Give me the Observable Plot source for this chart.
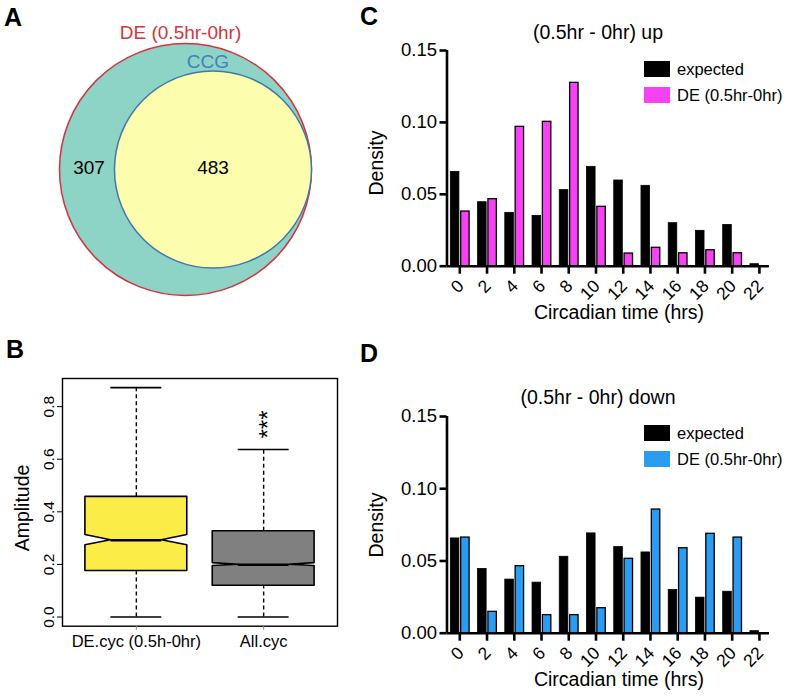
<!DOCTYPE html>
<html>
<head>
<meta charset="utf-8">
<script src="https://cdn.jsdelivr.net/npm/d3@7"></script>
<script src="https://cdn.jsdelivr.net/npm/@observablehq/plot@0.6"></script>
<style>
  html, body { margin: 0; padding: 0; background: #fff; }
  #wrap { position: relative; width: 786px; height: 697px; overflow: hidden; font-family: "Liberation Sans", Arial, sans-serif; color: #000; }
  #wrap svg { position: absolute; }
  .t { position: absolute; white-space: nowrap; line-height: 1; }
  .sw { position: absolute; }
</style>
</head>
<body>
<div id="wrap"></div>
<script>
// ---------------- data ----------------
// Panel A (Venn)
const vennSetNames = ["DE (0.5hr-0hr)", "CCG"];
const vennDEonly = 307;
const vennOverlap = 483;

// Panel B (boxplot of amplitude)
const boxGroups = ["DE.cyc (0.5h-0hr)", "All.cyc"];
const boxLower  = [0.000, 0.000];
const boxQ1     = [0.175, 0.119];
const boxMedian = [0.292, 0.199];
const boxQ3     = [0.457, 0.326];
const boxUpper  = [0.872, 0.637];
const notchLow  = [0.273, 0.194];
const notchHigh = [0.312, 0.205];
const boxSignif = ["", "***"];

// Panels C & D (density by circadian time)
const hours    = [0, 2, 4, 6, 8, 10, 12, 14, 16, 18, 20, 22];
const expected = [0.0656, 0.0445, 0.0371, 0.0350, 0.0529, 0.0691, 0.0596, 0.0559, 0.0299, 0.0246, 0.0287, 0.0014];
const deUp     = [0.0380, 0.0466, 0.0969, 0.1004, 0.1275, 0.0413, 0.0088, 0.0128, 0.0090, 0.0111, 0.0090, 0];
const deDown   = [0.0662, 0.0148, 0.0464, 0.0125, 0.0125, 0.0173, 0.0515, 0.0856, 0.0588, 0.0688, 0.0662, 0];
const yTicks   = [0, 0.05, 0.10, 0.15];

// ---------------- helpers ----------------
const wrap = document.getElementById("wrap");
const FONT = '"Liberation Sans", Arial, sans-serif';
function place(svg, left, top) {
  svg.style.left = left + "px";
  svg.style.top = top + "px";
  wrap.appendChild(svg);
}
function text(str, css) {
  const d = document.createElement("div");
  d.className = "t";
  d.textContent = str;
  Object.assign(d.style, css);
  wrap.appendChild(d);
  return d;
}

// ---------------- Panel A: Venn ----------------
(function () {
  const total = vennDEonly + vennOverlap;
  const rScale = d3.scaleSqrt().domain([0, total]).range([0, 126]);
  const outerR = rScale(total), innerR = rScale(vennOverlap);
  const cx = 185, cy = 169;
  const circles = [
    {name: vennSetNames[0], n: total, x: cx, fill: "#8dd4c6", stroke: "#d3343d"},
    {name: vennSetNames[1], n: vennOverlap, x: cx + (outerR - innerR), fill: "#fdfdae", stroke: "#3f78ad"}
  ];
  const labels = [
    {t: String(vennDEonly), x: ((cx - outerR) + (circles[1].x - innerR)) / 2 + 2, y: cy - 2, fill: "#000", size: 19},
    {t: String(vennOverlap), x: circles[1].x, y: cy - 2, fill: "#000", size: 19},
    {t: vennSetNames[0], x: cx - 5, y: cy - outerR - 11, fill: "#d3343d", size: 19},
    {t: vennSetNames[1], x: circles[1].x - 5, y: cy - innerR - 9, fill: "#3f82c0", size: 19}
  ];
  const svg = Plot.plot({
    width: 340, height: 330, margin: 0,
    style: {fontFamily: FONT, background: "transparent", overflow: "visible"},
    x: {type: "identity", axis: null},
    y: {type: "identity", axis: null},
    r: {type: "sqrt", domain: [0, total], range: [0, 126]},
    marks: [
      Plot.dot(circles, {x: "x", y: () => cy, r: "n", fill: "fill", stroke: "stroke", strokeWidth: 1.5, fillOpacity: 1}),
      Plot.text(labels, {x: "x", y: "y", text: "t", fill: "fill", fontSize: "size", lineAnchor: "middle"})
    ]
  });
  place(svg, 0, 0);
  text("A", {left: "4px", top: "5px", fontWeight: "bold", fontSize: "25px"});
})();

// ---------------- Panel B: notched boxplot ----------------
(function () {
  const W = 0.4, NF = 0.5, STAPLE = 0.2;
  const boxes = boxGroups.map((g, i) => ({
    g, c: i + 1, lower: boxLower[i], q1: boxQ1[i], med: boxMedian[i], q3: boxQ3[i],
    upper: boxUpper[i], nlo: notchLow[i], nhi: notchHigh[i], sig: boxSignif[i],
    fill: i === 0 ? "#fcec48" : "#808080"
  }));
  const outline = boxes.flatMap(b => [
    {g: b.g, fill: b.fill, y: b.q1,  x1: b.c - W,      x2: b.c + W},
    {g: b.g, fill: b.fill, y: b.nlo, x1: b.c - W,      x2: b.c + W},
    {g: b.g, fill: b.fill, y: b.med, x1: b.c - W * NF, x2: b.c + W * NF},
    {g: b.g, fill: b.fill, y: b.nhi, x1: b.c - W,      x2: b.c + W},
    {g: b.g, fill: b.fill, y: b.q3,  x1: b.c - W,      x2: b.c + W}
  ]);
  const ymax = d3.max(boxUpper), ymin = d3.min(boxLower);
  const pad = (ymax - ymin) * 0.04;
  const svg = Plot.plot({
    width: 340, height: 367,
    marginLeft: 62, marginRight: 3, marginTop: 48, marginBottom: 71.3,
    style: {fontFamily: FONT, background: "transparent", overflow: "visible"},
    x: {domain: [0.42, 2.58]},
    y: {domain: [ymin - pad, ymax + pad]},
    marks: [
      Plot.ruleX(boxes, {x: "c", y1: "q3", y2: "upper", stroke: "#000", strokeWidth: 1.4, strokeDasharray: "4,3"}),
      Plot.ruleX(boxes, {x: "c", y1: "lower", y2: "q1", stroke: "#000", strokeWidth: 1.4, strokeDasharray: "4,3"}),
      Plot.ruleY(boxes, {y: "upper", x1: d => d.c - STAPLE, x2: d => d.c + STAPLE, stroke: "#000", strokeWidth: 1.6}),
      Plot.ruleY(boxes, {y: "lower", x1: d => d.c - STAPLE, x2: d => d.c + STAPLE, stroke: "#000", strokeWidth: 1.6}),
      Plot.areaX(outline, {y: "y", x1: "x1", x2: "x2", z: "g", fill: "fill", stroke: "#000", strokeWidth: 1.6, curve: "linear"}),
      Plot.ruleY(boxes, {y: "med", x1: d => d.c - W * NF, x2: d => d.c + W * NF, stroke: "#000", strokeWidth: 2.6}),
      Plot.text(boxes.filter(b => b.sig), {x: "c", y: "upper", text: "sig", rotate: -90, textAnchor: "start", lineAnchor: "middle", dy: -11, dx: 5, fontSize: 24}),
      Plot.frame({stroke: "#000", strokeWidth: 1.4}),
      Plot.axisY({ticks: [0, 0.2, 0.4, 0.6, 0.8], tickFormat: d3.format(".1f"), tickRotate: -90, tickSize: 5, tickPadding: 4, fontSize: 15.5, label: null}),
      Plot.axisX({ticks: [1, 2], tickFormat: d => boxGroups[d - 1], tickSize: 4, tickPadding: 5, fontSize: 16.5, label: null, stroke: "#888"})
    ]
  });
  place(svg, 0, 330);
  text("B", {left: "6px", top: "337px", fontWeight: "bold", fontSize: "25px"});
  text("Amplitude", {left: "23px", top: "508px", fontSize: "19.5px", transform: "translate(-50%,-50%) rotate(-90deg)"});
})();

// ---------------- Panels C & D: grouped bars ----------------
function hist(deVals, color, height, marginTop, marginBottom) {
  const rows = hours.map((h, i) => ({hour: h, expected: expected[i], de: deVals[i]}));
  const xDomain = [-0.94, 22.74];
  return Plot.plot({
    width: 446, height,
    marginLeft: 106.5, marginRight: 17, marginTop, marginBottom,
    style: {fontFamily: FONT, background: "transparent", overflow: "visible"},
    x: {domain: xDomain},
    y: {domain: [0, 0.15]},
    marks: [
      Plot.rectY(rows, {x1: d => d.hour - 0.66, x2: d => d.hour - 0.03, y: "expected", fill: "#000", stroke: "#000", strokeWidth: 0.8}),
      Plot.rectY(rows.filter(d => d.de > 0), {x1: d => d.hour + 0.1, x2: d => d.hour + 0.72, y: "de", fill: color, stroke: "#000", strokeWidth: 1.3}),
      Plot.ruleX([xDomain[0]], {stroke: "#000", strokeWidth: 2.6}),
      Plot.ruleY([0], {stroke: "#000", strokeWidth: 2.6}),
      Plot.axisY({ticks: yTicks, tickFormat: d3.format(".2f"), tickSize: 7, tickPadding: 3, strokeWidth: 2.6, fontSize: 18.5, label: null}),
      Plot.axisX({ticks: hours, tickFormat: () => "", tickSize: 8, strokeWidth: 2.6, label: null}),
      Plot.text(hours, {x: d => d, frameAnchor: "bottom", text: d => String(d), rotate: -45, textAnchor: "end", lineAnchor: "middle", dx: 1, dy: 17, fontSize: 17.5})
    ]
  });
}

function legendRow(left, top, fill, label) {
  const s = document.createElement("div");
  s.className = "sw";
  Object.assign(s.style, {left: left + "px", top: top + "px", width: "26px", height: "16px", background: fill});
  wrap.appendChild(s);
  text(label, {left: (left + 33) + "px", top: (top + 8) + "px", fontSize: "16.5px", transform: "translateY(-50%)"});
}

// C
place(hist(deUp, "#f542f2", 340, 50, 74.3), 340, 0);
text("C", {left: "360px", top: "4px", fontWeight: "bold", fontSize: "25px"});
text("(0.5hr - 0hr) up", {left: "598px", top: "33px", fontSize: "19.5px", transform: "translate(-50%,-50%)"});
text("Density", {left: "377px", top: "163px", fontSize: "19.5px", transform: "translate(-50%,-50%) rotate(-90deg)"});
text("Circadian time (hrs)", {left: "619px", top: "313px", fontSize: "19.5px", transform: "translate(-50%,-50%)"});
legendRow(644, 61, "#000", "expected");
legendRow(644, 87, "#f542f2", "DE (0.5hr-0hr)");

// D
place(hist(deDown, "#2c9cf0", 357, 76, 64.3), 340, 340);
text("D", {left: "360px", top: "341px", fontWeight: "bold", fontSize: "25px"});
text("(0.5hr - 0hr) down", {left: "598px", top: "398px", fontSize: "19.5px", transform: "translate(-50%,-50%)"});
text("Density", {left: "377px", top: "525px", fontSize: "19.5px", transform: "translate(-50%,-50%) rotate(-90deg)"});
text("Circadian time (hrs)", {left: "619px", top: "680px", fontSize: "19.5px", transform: "translate(-50%,-50%)"});
legendRow(644, 425, "#000", "expected");
legendRow(644, 451, "#2c9cf0", "DE (0.5hr-0hr)");
</script>
</body>
</html>
